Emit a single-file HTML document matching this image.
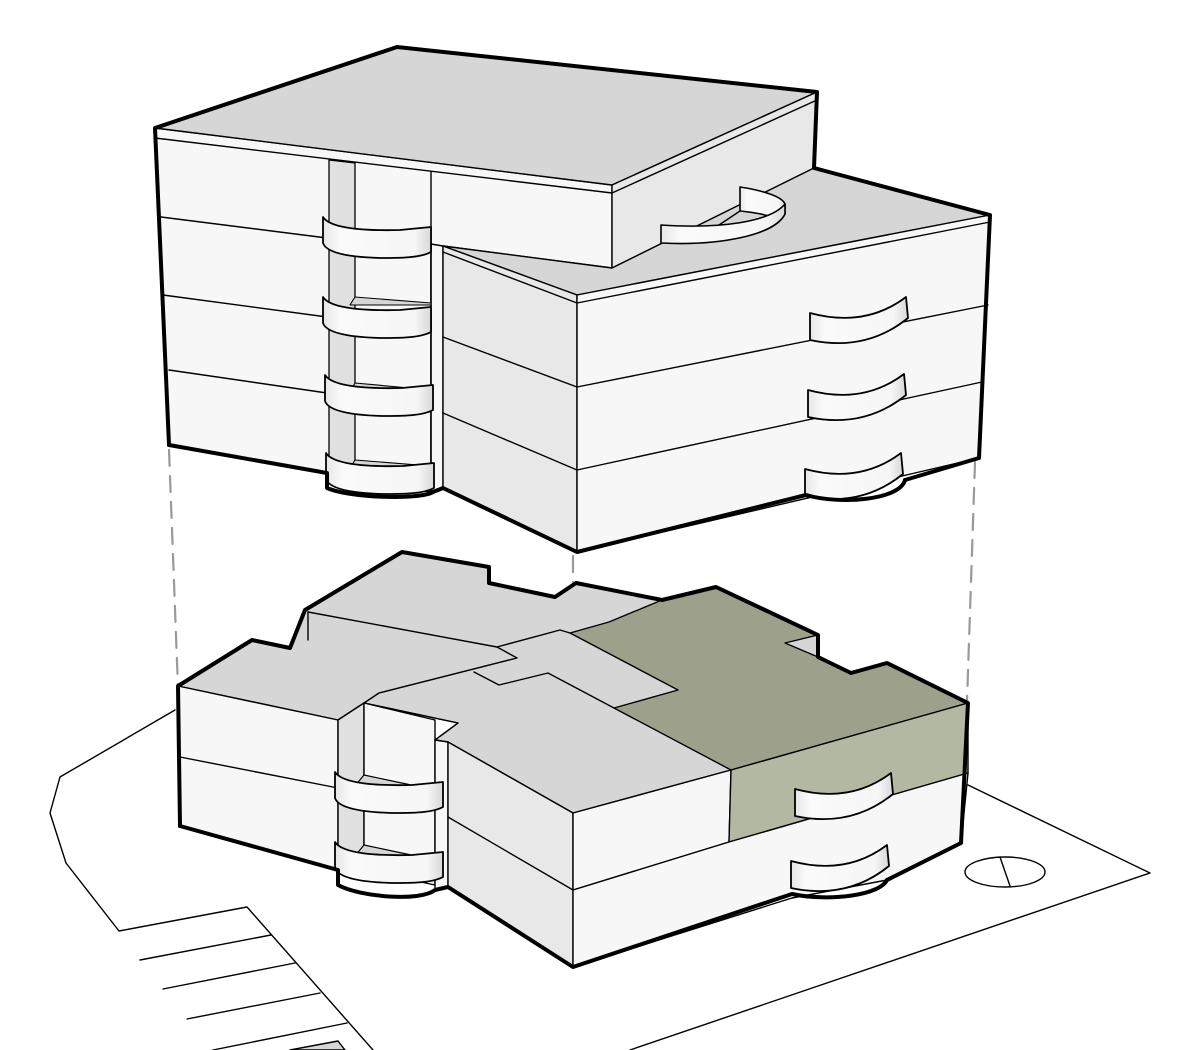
<!DOCTYPE html>
<html><head><meta charset="utf-8"><style>html,body{margin:0;padding:0;background:#fff}svg{display:block}</style></head>
<body>
<svg width="1200" height="1050" viewBox="0 0 1200 1050" xmlns="http://www.w3.org/2000/svg" stroke-linejoin="round" stroke-linecap="round">
<defs>
<linearGradient id="rib" x1="0" x2="1" y1="0" y2="0">
<stop offset="0" stop-color="#e6e6e6"/><stop offset="0.15" stop-color="#fafafa"/><stop offset="0.85" stop-color="#f6f6f6"/><stop offset="1" stop-color="#d8d8d8"/></linearGradient>
<g id="balL">
<path d="M323,217 C330,228 360,231 400,230 L431,227 L431,252 C420,258 400,258 380,258 C345,257 326,252 323,243 Z" fill="url(#rib)" stroke="#000" stroke-width="1.8"/>
</g>
<g id="balR">
<path d="M810,313 Q865,328 906,297 L908,318 Q866,352 810,340 Z" fill="url(#rib)" stroke="#000" stroke-width="1.8"/>
</g>
</defs>

<g fill="none" stroke="#000" stroke-width="1.4">
<polyline points="175,710 60,777 50,813 66,863 119,931 247,907 373,1050"/>
<line x1="140" y1="960" x2="271" y2="935"/>
<line x1="163" y1="989" x2="295" y2="963"/>
<line x1="187" y1="1019" x2="320" y2="993"/>
<line x1="213" y1="1050" x2="347" y2="1023"/>
<polyline points="968,785 1150,873 630,1050"/>
<ellipse cx="1005" cy="872" rx="40" ry="15" fill="#fff"/>
<line x1="1000" y1="857" x2="1010" y2="886"/>
</g>
<path d="M290,1050 L338,1041 L345,1050 Z" fill="#d6d6d6" stroke="#000" stroke-width="1.4"/>

<g stroke="#999" stroke-width="2.2" stroke-dasharray="16,10" fill="none">
<line x1="169" y1="450" x2="178" y2="688"/>
<line x1="573" y1="556" x2="573" y2="815"/>
<line x1="975" y1="462" x2="967" y2="702"/>
</g>

<!-- LOWER -->
<polygon points="178,686 252,640 290,648 305,610 402,552 489,567 489,583 555,597 576,583 662,600 716,587 818,635 818,657 851,673 887,663 968,703 731,770 573,813 448,742 435,740 458,723 364,703 338,720" fill="#d6d6d6" stroke="#000" stroke-width="1.4"/>
<polygon points="570,633 609,622 662,600 716,587 818,635 785,643 818,657 851,673 887,663 968,703 731,770 614,708 678,690" fill="#9da18c" stroke="#000" stroke-width="1.4"/>
<g fill="none" stroke="#000" stroke-width="1.4">
<polyline points="308,612 497,647 517,658 379,693 364,703"/>
<polyline points="497,647 560,630 570,633"/>
<polyline points="474,672 499,685 548,673 614,708"/>
<polyline points="364,703 458,723"/>
<line x1="308" y1="612" x2="308" y2="640"/>
</g>
<polygon points="178,686 338,720 338,870 180,826" fill="#f7f7f7" stroke="#000" stroke-width="1.4"/>
<line x1="180" y1="757" x2="338" y2="788" stroke="#000" stroke-width="1.4"/>
<polygon points="338,720 364,703 364,870 338,870" fill="#e0e0e0" stroke="#000" stroke-width="1.4"/>
<polygon points="364,703 435,720 435,885 364,870" fill="#f7f7f7" stroke="#000" stroke-width="1.4"/>
<polygon points="364,775 435,790 435,792 350,792" fill="#d6d6d6" stroke="#000" stroke-width="1.2"/>
<polygon points="364,845 435,860 435,862 350,862" fill="#d6d6d6" stroke="#000" stroke-width="1.2"/>
<polygon points="435,740 448,742 448,887 435,890" fill="#f7f7f7" stroke="#000" stroke-width="1.4"/>
<use href="#balL" transform="translate(12,555)"/>
<use href="#balL" transform="translate(12,625)"/>
<polygon points="448,742 573,813 573,967 448,887" fill="#e8e8e8" stroke="#000" stroke-width="1.4"/>
<line x1="448" y1="817" x2="573" y2="890" stroke="#000" stroke-width="1.4"/>
<polygon points="573,813 731,770 729,842 573,890" fill="#f7f7f7" stroke="#000" stroke-width="1.4"/>
<polygon points="731,770 968,703 968,773 729,842" fill="#b3b8a2" stroke="#000" stroke-width="1.4"/>
<polygon points="573,890 729,842 968,773 961,843 887,880 792,898 573,967" fill="#f7f7f7" stroke="#000" stroke-width="1.4"/>
<use href="#balR" transform="translate(-15,476)"/>
<use href="#balR" transform="translate(-19,548)"/>
<g fill="none" stroke="#000" stroke-width="4">
<polyline points="180,826 178,686 252,640 290,648 305,610 402,552 489,567 489,583 555,597 576,583 662,600 716,587 818,635 818,657 851,673 887,663 968,703 961,843 887,880"/>
<path d="M887,880 C880,895 830,902 792,894 L573,967 L448,887 L435,890 C420,902 360,897 338,885 L338,870 L180,826"/>
</g>

<!-- UPPER -->
<polygon points="155,128 612,185 612,268 443,246 431,246 431,492 327,473 169,445" fill="#f7f7f7" stroke="#000" stroke-width="1.4"/>
<polygon points="431,244 443,246 443,488 431,492" fill="#f7f7f7" stroke="#000" stroke-width="1.4"/>
<polygon points="329,160 355,163 355,470 329,470" fill="#e0e0e0" stroke="#000" stroke-width="1.3"/>
<line x1="431" y1="172" x2="431" y2="492" stroke="#000" stroke-width="1.4"/>
<g stroke="#000" stroke-width="1.4">
<line x1="161" y1="217" x2="327" y2="238"/>
<line x1="163" y1="295" x2="327" y2="317"/>
<line x1="169" y1="370" x2="327" y2="393"/>
<line x1="155" y1="138" x2="612" y2="193"/>
</g>
<polygon points="355,297 431,303 431,305 350,305" fill="#d6d6d6" stroke="#000" stroke-width="1.1"/>
<polygon points="355,383 431,390 431,392 350,392" fill="#d6d6d6" stroke="#000" stroke-width="1.1"/>
<polygon points="355,460 431,466 431,468 350,468" fill="#d6d6d6" stroke="#000" stroke-width="1.1"/>
<use href="#balL"/>
<use href="#balL" transform="translate(0,80)"/>
<use href="#balL" transform="translate(2,158)"/>
<use href="#balL" transform="translate(3,236)"/>
<polygon points="155,128 397,47 817,92 612,185" fill="#d6d6d6" stroke="#000" stroke-width="1.4"/>
<polygon points="612,185 817,92 814,168 612,268" fill="#e8e8e8" stroke="#000" stroke-width="1.4"/>
<line x1="612" y1="193" x2="817" y2="100" stroke="#000" stroke-width="1.4"/>
<polygon points="443,246 612,268 814,168 990,215 577,295" fill="#d6d6d6" stroke="#000" stroke-width="1.4"/>
<path d="M740,187 L740,211 C760,213 772,216 778,220 L785,214 L785,204 C782,196 760,190 740,187 Z" fill="url(#rib)" stroke="#000" stroke-width="1.6"/>
<line x1="716" y1="227" x2="740" y2="211" stroke="#000" stroke-width="1.4"/>
<path d="M661,225 C720,229 770,222 785,204 L785,214 C775,235 720,246 661,243 Z" fill="url(#rib)" stroke="#000" stroke-width="1.6"/>
<polygon points="443,246 577,295 577,552 443,488" fill="#e8e8e8" stroke="#000" stroke-width="1.4"/>
<line x1="443" y1="252" x2="577" y2="303" stroke="#000" stroke-width="1.4"/>
<line x1="443" y1="337" x2="577" y2="387" stroke="#000" stroke-width="1.4"/>
<line x1="443" y1="413" x2="577" y2="470" stroke="#000" stroke-width="1.4"/>
<polygon points="577,295 990,215 979,458 577,552" fill="#f7f7f7" stroke="#000" stroke-width="1.4"/>
<line x1="577" y1="303" x2="990" y2="222" stroke="#000" stroke-width="1.4"/>
<line x1="577" y1="387" x2="988" y2="305" stroke="#000" stroke-width="1.4"/>
<line x1="577" y1="470" x2="982" y2="382" stroke="#000" stroke-width="1.4"/>
<use href="#balR"/>
<use href="#balR" transform="translate(-2,77)"/>
<use href="#balR" transform="translate(-5,156)"/>
<g fill="none" stroke="#000" stroke-width="4">
<polyline points="169,445 155,128 397,47 817,92 814,168 990,215 979,458 905,480"/>
<path d="M905,480 C900,500 840,505 806,495 L577,552 L443,488 L433,492 C420,500 350,498 327,488 L327,473 L169,445"/>
</g>
</svg>
</body></html>
